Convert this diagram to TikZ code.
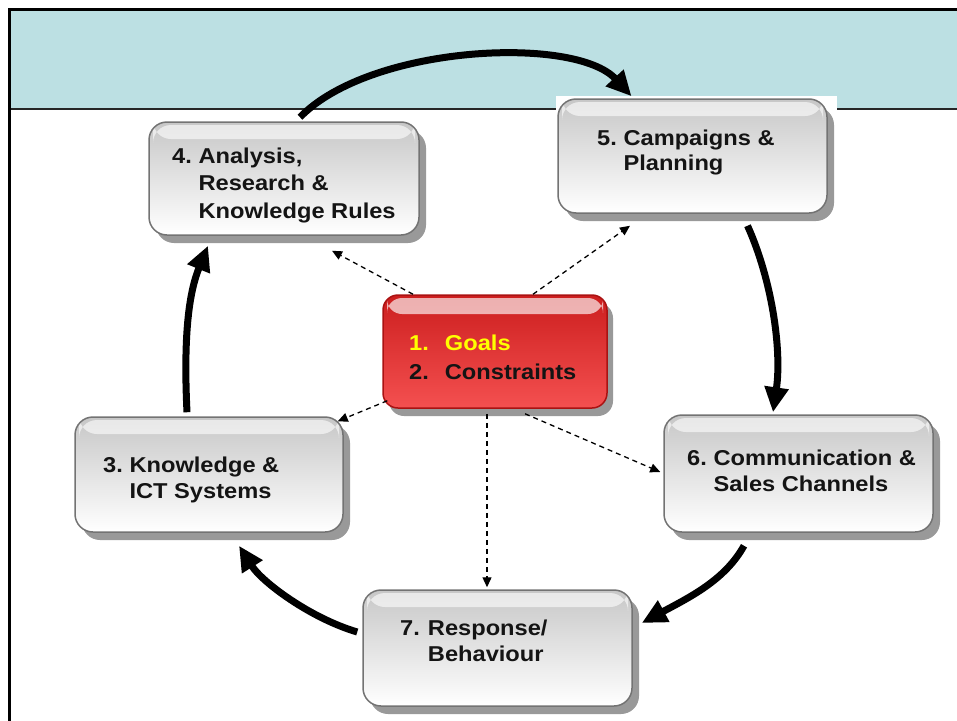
\documentclass[tikz,border=0pt]{standalone}
\usepackage{fontspec}
\setmainfont{Liberation Sans}[FakeStretch=1.1]
\usetikzlibrary{arrows.meta,shadows,calc}
\definecolor{band}{HTML}{BCE0E3}
\definecolor{redtop}{RGB}{204,30,30}
\definecolor{redbot}{RGB}{244,80,80}
\definecolor{redrim}{RGB}{170,18,18}
\definecolor{goalyellow}{RGB}{255,255,0}
\begin{document}
\begin{tikzpicture}[x=1pt,y=-1pt,
  graybox/.style={rounded corners=18pt, draw=black!55, line width=1.5pt,
    top color=black!22, bottom color=white, inner sep=0,
    drop shadow={shadow xshift=7pt,shadow yshift=-8pt,fill=black!40,opacity=1},
    path picture={\fill[white,opacity=.6] ([xshift=4pt,yshift=-3pt]path picture bounding box.north west) rectangle ([xshift=-4pt,yshift=-17pt]path picture bounding box.north east);}},
  redbox/.style={rounded corners=15pt, draw=redrim, line width=1.5pt,
    top color=redtop, bottom color=redbot, inner sep=0,
    drop shadow={shadow xshift=6pt,shadow yshift=-8pt,fill=black!40,opacity=1},
    path picture={\fill[white,opacity=.65] ([xshift=4pt,yshift=-3pt]path picture bounding box.north west) rectangle ([xshift=-4pt,yshift=-19pt]path picture bounding box.north east);}},
  lbl/.style={anchor=base west, inner sep=0, font=\fontsize{21.5}{27.5}\selectfont\bfseries, text=black!92},
  cycarrow/.style={line width=7pt, -{Triangle[width=23pt,length=25pt]}},
  dasharrow/.style={line width=1.3pt, dash pattern=on 5pt off 4pt, -{Triangle[width=9pt,length=10pt]}}
]
\useasboundingbox (0,0) rectangle (957,720);
% frame and header band
\fill[band] (11,11) rectangle (970,108);
\draw[line width=1.5pt, black!85] (11,109) -- (970,109);
\draw[line width=3pt] (9.5,730) -- (9.5,9.5) -- (970,9.5);
\fill[white] (556,96) rectangle (837,225);

% boxes
\node[graybox, minimum width=270pt, minimum height=113pt] (b4) at (284,178.5) {};
\node[graybox, minimum width=269pt, minimum height=114pt] (b5) at (692.5,156) {};
\node[graybox, minimum width=268pt, minimum height=115pt] (b3) at (209,474.5) {};
\node[graybox, minimum width=269pt, minimum height=117pt] (b6) at (798.5,473.5) {};
\node[graybox, minimum width=269pt, minimum height=116pt] (b7) at (497.5,648) {};
\node[redbox, minimum width=224pt, minimum height=113pt] (c) at (495,351.5) {};

% labels
\node[lbl] (t4) at (172,163) {\begin{tabular}[t]{@{}l@{\hspace{6.6pt}}l@{}}4.&Analysis,\\&Research \&\\&Knowledge Rules\end{tabular}};
\node[lbl] (t5) at (597,145) {\renewcommand\arraystretch{0.92}\begin{tabular}[t]{@{}l@{\hspace{6.6pt}}l@{}}5.&Campaigns \&\\&Planning\end{tabular}};
\node[lbl] (t3) at (103,472) {\renewcommand\arraystretch{0.95}\begin{tabular}[t]{@{}l@{\hspace{6.6pt}}l@{}}3.&Knowledge \&\\&ICT Systems\end{tabular}};
\node[lbl] (t6) at (687,465) {\renewcommand\arraystretch{0.98}\begin{tabular}[t]{@{}l@{\hspace{6.6pt}}l@{}}6.&Communication \&\\&Sales Channels\end{tabular}};
\node[lbl] (t7) at (400,635) {\renewcommand\arraystretch{0.98}\begin{tabular}[t]{@{}l@{\hspace{8pt}}l@{}}7.&Response/\\&Behaviour\end{tabular}};
\node[lbl] (tc) at (409,350) {\renewcommand\arraystretch{1.09}\begin{tabular}[t]{@{}l@{\hspace{16pt}}l@{}}\textcolor{goalyellow}{1.}&\textcolor{goalyellow}{Goals}\\2.&Constraints\end{tabular}};

% cycle arrows
\draw[cycarrow] ([xshift=16pt,yshift=4pt]b4.north) .. controls (370,45) and (575,35) .. ([xshift=-61pt,yshift=2pt]b5.north);
\draw[cycarrow] ([xshift=55pt,yshift=-12pt]b5.south) .. controls (772,280) and (782,350) .. ([xshift=-25.5pt,yshift=2pt]b6.north);
\draw[cycarrow] ([xshift=-54.5pt,yshift=-13pt]b6.south) .. controls (725,580) and (690,597) .. ([xshift=9pt,yshift=25pt]b7.east);
\draw[cycarrow] ([xshift=-5pt,yshift=16pt]b7.west) .. controls (310,618) and (262,582) .. ([xshift=30pt,yshift=-13pt]b3.south);
\draw[cycarrow] ([xshift=-22pt,yshift=4pt]b3.north) .. controls (183,330) and (190,290) .. ([xshift=-76pt,yshift=-10pt]b4.south);

% dashed arrows from centre
\draw[dasharrow] ([xshift=-82pt]c.north) -- ([xshift=48pt,yshift=-15pt]b4.south);
\draw[dasharrow] ([xshift=38pt]c.north) -- ([xshift=-62.5pt,yshift=-12pt]b5.south);
\draw[dasharrow] ([xshift=5pt,yshift=8pt]c.south west) -- ([xshift=-6pt,yshift=-5pt]b3.north east);
\draw[dasharrow] ([xshift=30pt,yshift=-5pt]c.south) -- ([xshift=-3pt,yshift=1.5pt]b6.west);
\draw[dasharrow] ([xshift=-8pt,yshift=-5pt]c.south) -- ([xshift=-10.5pt,yshift=2pt]b7.north);
\end{tikzpicture}
\end{document}
